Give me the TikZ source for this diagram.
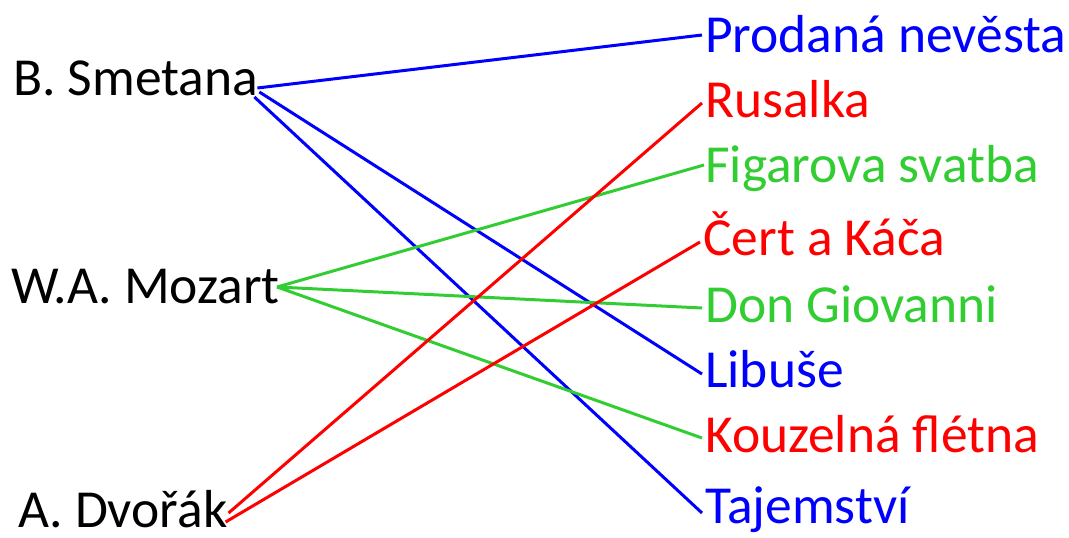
\documentclass[tikz,border=0pt]{standalone}
\usepackage{fontspec}
\setmainfont{Carlito}
\usepackage{xcolor}
\definecolor{lgreen}{RGB}{50,205,50}

\begin{document}
\begin{tikzpicture}[x=1pt, y=-1pt,
        comp/.style={anchor=base west, inner sep=0, text height=34pt, text depth=0pt, font=\fontsize{53.5}{60}\selectfont},
        opera/.style={comp, text=#1},
        link/.style={line width=3pt, draw=#1}]
    \useasboundingbox (0, 0) rectangle (1069, 538);

        \node[comp] at (13, 95) (smetana) {B. Smetana};
        \node[comp] at (11, 303) (mozart) {W.A. Mozart};
        \node[comp] at (18, 527) (dvorak) {A. Dvořák};

        \node[opera=blue] at (705, 52) (prodana) {Prodaná nevěsta};
        \node[opera=red] at (705, 117) (rusalka) {Rusalka};
        \node[opera=lgreen] at (705, 182) (figaro) {Figarova svatba};
        \node[opera=red] at (703, 255) (cert) {Čert a Káča};
        \node[opera=lgreen] at (705, 322) (don) {Don Giovanni};
        \node[opera=blue] at (705, 387) (libuse) {Libuše};
        \node[opera=red] at (705, 452) (fletna) {Kouzelná flétna};
        \node[opera=blue] at (705, 523) (tajemstvi) {Tajemství};

        \draw[link=blue] ([shift={(-1pt,-10pt)}]smetana.east) to ([xshift=-3pt]prodana.west)
            ([shift={(1pt,-14pt)}]smetana.east) to ([shift={(-3pt,-4pt)}]libuse.west)
            ([shift={(-4pt,-19pt)}]smetana.east) to ([shift={(-3pt,-7pt)}]tajemstvi.west);
        \draw[link=lgreen] ([shift={(-3pt,-1pt)}]mozart.east) to ([xshift=-1pt]figaro.west)
            ([shift={(-3pt,-1pt)}]mozart.east) to ([shift={(-3pt,-3pt)}]don.west)
            ([shift={(-3pt,-1pt)}]mozart.east) to ([shift={(-3pt,-3pt)}]fletna.west);
        \draw[link=red] ([shift={(1pt,-3pt)}]dvorak.east) to ([shift={(-3pt,-3pt)}]rusalka.west)
            ([shift={(-2pt,-12pt)}]dvorak.east) to ([shift={(-3pt,-4pt)}]cert.west);
    \end{tikzpicture}
\end{document}
